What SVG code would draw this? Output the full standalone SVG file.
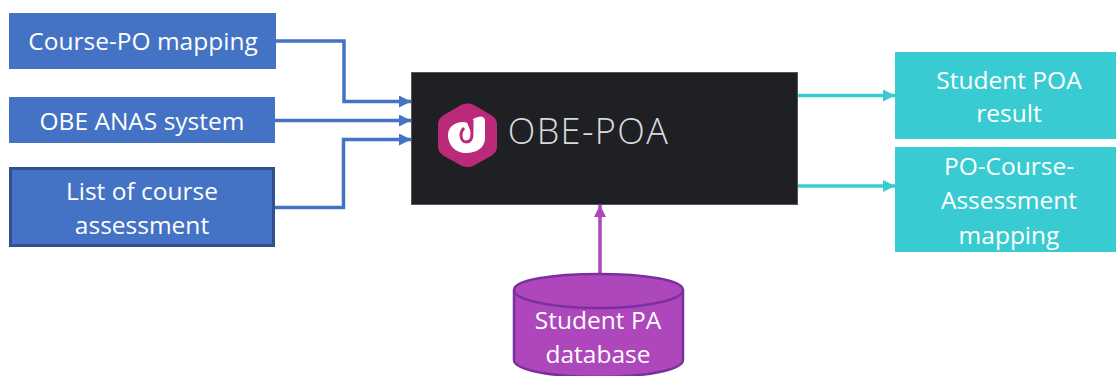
<svg xmlns="http://www.w3.org/2000/svg" width="1116" height="376" viewBox="0 0 1116 376">
<defs>
<style>
text{font-family:"Open Sans","Noto Sans","Liberation Sans",sans-serif;font-size:24.500px;fill:#fff;text-anchor:middle}
.b{fill:#4472c4}
.c{fill:#38cbd1}
.bl,.cl,.pl{fill:none;stroke-width:3.500}
.bl{stroke:#4472c4}
.cl{stroke:#38cbd1}
.pl{stroke:#ae46bc}
</style>
<marker id="mb" markerUnits="userSpaceOnUse" markerWidth="13" markerHeight="13" refX="12" refY="6" orient="auto"><path d="M0 0L12 6L0 12z" fill="#4472c4"/></marker>
<marker id="mc" markerUnits="userSpaceOnUse" markerWidth="13" markerHeight="13" refX="12" refY="6" orient="auto"><path d="M0 0L12 6L0 12z" fill="#38cbd1"/></marker>
<marker id="mp" markerUnits="userSpaceOnUse" markerWidth="13" markerHeight="13" refX="12" refY="6" orient="auto"><path d="M0 0L12 6L0 12z" fill="#ae46bc"/></marker>
</defs>
<g id="connectors">
<path class="bl" marker-end="url(#mb)" d="M276 41H344V101.500H411"/>
<path class="bl" marker-end="url(#mb)" d="M275 120.500H411"/>
<path class="bl" marker-end="url(#mb)" d="M275 207.500H343.500V139.500H411"/>
<path class="cl" marker-end="url(#mc)" d="M798 95.500H895"/>
<path class="cl" marker-end="url(#mc)" d="M798 186H895"/>
<path class="pl" marker-end="url(#mp)" d="M600 274V205"/>
</g>
<g id="course-po"><rect class="b" x="9" y="13" width="267" height="56"/><text x="143" y="50">Course-PO mapping</text></g>
<g id="obe-anas"><rect class="b" x="9" y="97" width="266" height="46"/><text x="142" y="130">OBE ANAS system</text></g>
<g id="course-assessment"><rect class="b" x="10.500" y="168.500" width="263" height="77" stroke="#2f528f" stroke-width="3"/><text x="142" y="200">List of course</text><text x="142" y="234">assessment</text></g>
<g id="obe-poa">
<rect x="411.500" y="72.500" width="386" height="132" fill="#1f2023" stroke="#55565a"/>
<path d="M467.500 103.500Q470 103 474 105L491 115Q497 118.500 497 124V147Q497 152 491 156L474 165.500Q467.500 168.500 461 165.500L444 156Q438 152 438 147V124Q438 118.500 444 115L461 105Q465 103 467.500 103.500Z" fill="#bb2a78"/>
<path d="M473 119Q477 116.500 481 116.500Q485 117 485 121V138C485 148 476 153 466 153C455 153 448 145 448 135C448 127 455 122 463 122Q468 122 468 125L472 135Z" fill="#fff"/>
<path d="M472 120V134C472 140 469 142 466 142C463 142 461 139 461 135C461 132 462 130 464 128" fill="none" stroke="#bb2a78" stroke-width="3"/>
<text x="588.500" y="144" style="font-size:36px;fill:#d8dade;letter-spacing:1.400px;font-weight:300">OBE-POA</text>
</g>
<g id="student-poa"><rect class="c" x="895" y="52" width="221" height="87"/><text x="1009" y="89">Student POA</text><text x="1009" y="122">result</text></g>
<g id="po-course"><rect class="c" x="895" y="147" width="221" height="105"/><text x="1009" y="175">PO-Course-</text><text x="1009" y="209">Assessment</text><text x="1009" y="244">mapping</text></g>
<g id="student-pa">
<path d="M514 290C514 280 552 274 598.500 274C645 274 683 280 683 290V360C683 370 645 377 598.500 377C552 377 514 370 514 360Z" fill="#ae46bc" stroke="#7a309f" stroke-width="2.500"/>
<path d="M514 290C514 300 552 308 598.500 308C645 308 683 300 683 290" fill="none" stroke="#7a309f" stroke-width="2.500"/>
<text x="598" y="329">Student PA</text><text x="598" y="363">database</text>
</g>
</svg>
